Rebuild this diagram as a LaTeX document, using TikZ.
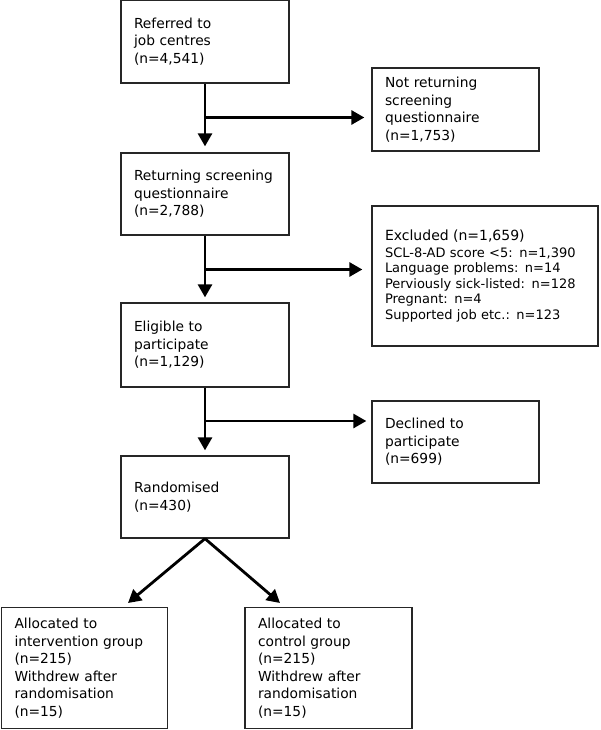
\documentclass[tikz,border=0pt]{standalone}
\usepackage{fontspec}
\setmainfont{DejaVu Sans}
\usetikzlibrary{arrows.meta}
\begin{document}
\begin{tikzpicture}[x=1pt,y=-1pt,
  box/.style={draw=black!85, line width=1.3pt, inner xsep=13pt, inner ysep=0pt,
    align=left, font=\fontsize{13.8}{17.5}\selectfont},
  arr/.style={line width=2.8pt, -{Triangle[width=14pt,length=13pt]}}]
\useasboundingbox (0,0) rectangle (600,730);
\node[box, text width=142pt, minimum height=83pt] (b1) at (205,41.5)
  {Referred to\\job centres\\(n=4,541)};
\node[box, text width=141pt, minimum height=83pt] (nr) at (455.5,109.5)
  {Not returning\\screening\\questionnaire\\(n=1,753)};
\node[box, text width=142pt, minimum height=82pt] (b2) at (205,194)
  {Returning screening\\questionnaire\\(n=2,788)};
\node[box, text width=200pt, minimum height=140pt, font=\fontsize{13}{15.5}\selectfont] (ex) at (485,276)
  {{\fontsize{14}{15.5}\selectfont Excluded (n=1,659)}\\[1.5pt]
   SCL-8-AD score <5: n=1,390\\
   Language problems: n=14\\
   Perviously sick-listed: n=128\\
   Pregnant: n=4\\
   Supported job etc.: n=123};
\node[box, text width=142pt, minimum height=84pt] (el) at (205,345)
  {Eligible to\\participate\\(n=1,129)};
\node[box, text width=141pt, minimum height=82pt] (de) at (455.5,442)
  {Declined to\\participate\\(n=699)};
\node[box, text width=142pt, minimum height=82pt] (ra) at (205,497)
  {Randomised\\(n=430)};
\node[box, text width=140pt, minimum height=121pt] (lb) at (84.5,668)
  {Allocated to\\intervention group\\(n=215)\\Withdrew after\\randomisation\\(n=15)};
\node[box, text width=141pt, minimum height=121pt] (rb) at (328.5,668)
  {Allocated to\\control group\\(n=215)\\Withdrew after\\randomisation\\(n=15)};
% vertical flow
\draw[arr, shorten >=6pt] (b1.south) -- (b2.north);
\draw[arr, shorten >=5pt] (b2.south) -- (el.north);
\draw[arr, shorten >=5pt] (el.south) -- (ra.north);
% side branches
\coordinate (j1) at (205,117.5);
\coordinate (j2) at (205,269.5);
\coordinate (j3) at (205,421);
\draw[arr, shorten >=7pt] (j1) -- (j1 -| nr.west);
\draw[arr, shorten >=9pt] (j2) -- (j2 -| ex.west);
\draw[arr, shorten >=5pt] (j3) -- (j3 -| de.west);
% split
\coordinate (t1) at (128,603);
\coordinate (t2) at (280,603);
\draw[arr] (ra.south) -- (t1);
\draw[arr] (ra.south) -- (t2);
\end{tikzpicture}
\end{document}
